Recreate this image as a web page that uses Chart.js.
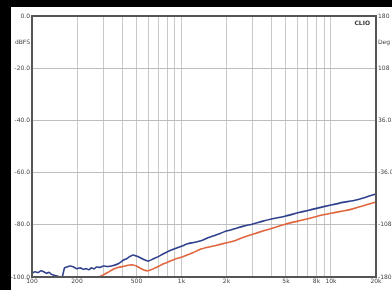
<!DOCTYPE html>
<html>
<head>
<meta charset="UTF-8">
<title>CLIO response</title>
<script src="https://cdn.jsdelivr.net/npm/chart.js"></script>
<style>
    html, body { margin: 0; padding: 0; background: #000; }
    #wrap { position: absolute; left: 11px; top: 7px; width: 381px; height: 283px; background: #fff; }
</style>
</head>
<body>
<div id="wrap"><canvas id="chart" width="381" height="283"></canvas></div>
<script>
    // frequency points (Hz)
    var freqs = [100,105,110,115,120,125,130,135,140,145,150,155,160,165,170,180,190,200,210,220,230,240,250,260,270,285,300,320,350,380,410,430,450,475,500,530,560,600,650,700,750,800,900,1000,1100,1200,1350,1500,1700,2000,2300,2600,3000,3500,4000,5000,6000,7000,8000,10000,12000,14000,16000,18000,20000];
    // blue trace (dB)
    var blueVals = [-98.5,-98,-98.3,-97.6,-98,-98.6,-98.2,-99,-99.3,-99.5,-99.8,-100,-99.6,-96.5,-96.2,-95.8,-96.2,-96.8,-96.5,-97,-96.8,-97.2,-96.5,-96.9,-96.2,-96.3,-95.8,-96,-95.6,-94.8,-93.5,-93,-92.2,-91.6,-92,-92.6,-93.3,-93.9,-93,-92.2,-91.2,-90.4,-89.2,-88.2,-87.3,-86.8,-86.1,-85,-83.9,-82.4,-81.4,-80.5,-79.7,-78.6,-77.8,-76.6,-75.4,-74.5,-73.7,-72.4,-71.4,-70.8,-69.9,-69,-68.2];
    // red trace (dB), below the floor under ~250 Hz
    var redVals = [null,null,null,null,null,null,null,null,null,null,null,null,null,null,null,null,null,null,null,null,null,null,-100,-100,-100,-99.8,-99.2,-98.3,-97,-96.3,-95.9,-95.6,-95.4,-95.4,-95.8,-96.6,-97.3,-97.6,-96.8,-96,-95,-94.4,-93.2,-92.4,-91.5,-90.6,-89.3,-88.6,-87.9,-86.9,-86,-84.8,-83.6,-82.4,-81.4,-79.7,-78.6,-77.7,-76.8,-75.6,-74.7,-73.9,-72.9,-72,-71.3];

    var gridFreqs = [100,200,300,400,500,600,700,800,900,1000,2000,3000,4000,5000,6000,7000,8000,9000,10000,20000];
    var freqLabels = {100:'100',200:'200',500:'500',1000:'1k',2000:'2k',5000:'5k',8000:'8k',10000:'10k',20000:'20k'};
    var degLabels = {180:'180',108:'108',36:'36.0','-36':'-36.0','-108':'-108','-180':'-180'};

    function pts(vals) {
        return freqs.map(function (f, i) { return { x: f, y: vals[i] }; });
    }

    var tickFont = { family: 'DejaVu Sans', size: 6 };

    var framePlugin = {
        id: 'frame',
        afterDraw: function (chart) {
            var a = chart.chartArea, c = chart.ctx;
            c.save();
            c.strokeStyle = '#555';
            c.lineWidth = 2;
            c.strokeRect(a.left, a.top, a.right - a.left, a.bottom - a.top);
            c.fillStyle = '#333';
            c.font = 'bold 6px DejaVu Sans';
            c.textAlign = 'right';
            c.fillText('CLIO', a.right - 6, a.top + 9);
            c.restore();
        }
    };

    new Chart(document.getElementById('chart'), {
        type: 'line',
        data: {
            datasets: [
                { data: pts(redVals), borderColor: '#e0643c', borderWidth: 1.6, pointRadius: 0, tension: 0.2, spanGaps: false },
                { data: pts(blueVals), borderColor: '#2e3f8c', borderWidth: 1.6, pointRadius: 0, tension: 0.2 }
            ]
        },
        options: {
            responsive: false,
            animation: false,
            layout: { padding: { top: 9, left: 0, right: 0, bottom: 0 } },
            plugins: { legend: { display: false }, tooltip: { enabled: false } },
            scales: {
                x: {
                    type: 'logarithmic',
                    min: 100, max: 20000,
                    afterBuildTicks: function (s) { s.ticks = gridFreqs.map(function (v) { return { value: v }; }); },
                    afterFit: function (s) { s.height = 13; },
                    ticks: {
                        autoSkip: false, maxRotation: 0, padding: 1, color: '#444', font: tickFont,
                        callback: function (v) { return freqLabels[v] || ''; }
                    },
                    grid: { color: '#c8c8c8', lineWidth: 1, drawTicks: false },
                    border: { display: false }
                },
                y: {
                    min: -100, max: 0,
                    afterFit: function (s) { s.width = 21; },
                    ticks: {
                        stepSize: 10, padding: 2, color: '#444', font: tickFont,
                        callback: function (v) { return v === -10 ? 'dBFS' : (v % 20 === 0 ? v.toFixed(1) : ''); }
                    },
                    grid: {
                        drawTicks: false,
                        color: function (ctx) { return ctx.tick && ctx.tick.value % 20 === 0 ? '#bdbdbd' : 'rgba(0,0,0,0)'; }
                    },
                    border: { display: false }
                },
                y2: {
                    position: 'right',
                    min: -180, max: 180,
                    afterFit: function (s) { s.width = 16; },
                    ticks: {
                        stepSize: 36, padding: 2, color: '#444', font: tickFont,
                        callback: function (v) { return v === 144 ? 'Deg' : (degLabels[v] || ''); }
                    },
                    grid: { display: false, drawTicks: false },
                    border: { display: false }
                }
            }
        },
        plugins: [framePlugin]
    });
</script>
</body>
</html>
